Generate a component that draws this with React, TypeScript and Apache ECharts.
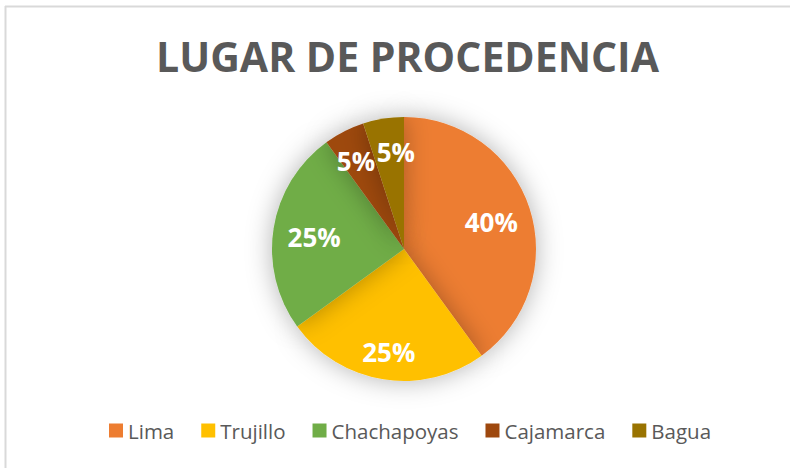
import React, { useEffect, useRef } from "react";
import * as echarts from "echarts";

const categories = ["Lima", "Trujillo", "Chachapoyas", "Cajamarca", "Bagua"];
const values = [40, 25, 25, 5, 5];
const colors = ["#ED7D31", "#FFC000", "#70AD47", "#9E480E", "#997300"];
const titleText = "LUGAR DE PROCEDENCIA";
const labelNudges = [
  { dx: -5, dy: 3 },
  { dx: 0, dy: 7 },
  { dx: 6, dy: 3 },
  { dx: -4, dy: -2 },
  { dx: 7, dy: -1 },
];

export default function App() {
  const ref = useRef<HTMLDivElement>(null);
  useEffect(() => {
    if (!ref.current) return;
    const chart = echarts.init(ref.current, null, { renderer: "svg" });
    const data = categories.map((name, i) => ({
      name,
      value: values[i],
      itemStyle: { color: colors[i] },
    }));
    chart.setOption({
      animation: false,
      backgroundColor: "#ffffff",
      title: {
        text: titleText,
        left: 151,
        top: 30,
        textStyle: {
          fontFamily: "Open Sans",
          fontWeight: "bold",
          fontSize: 41,
          color: "#595959",
        },
      },
      legend: {
        data: categories,
        bottom: 22,
        left: 104,
        icon: "rect",
        itemWidth: 14,
        itemHeight: 14,
        itemGap: 27,
        textStyle: { fontFamily: "Open Sans", fontSize: 20.5, color: "#595959" },
      },
      graphic: [
        {
          type: "line",
          shape: { x1: 5, y1: 6.5, x2: 790, y2: 6.5 },
          style: { stroke: "#d9d9d9", lineWidth: 2 },
        },
        {
          type: "line",
          shape: { x1: 5.5, y1: 6, x2: 5.5, y2: 468 },
          style: { stroke: "#d9d9d9", lineWidth: 2 },
        },
      ],
      series: [
        {
          type: "pie",
          center: [404, 249],
          radius: 132,
          startAngle: 90,
          data,
          label: { show: false },
          labelLine: { show: false },
          itemStyle: {
            shadowBlur: 26,
            shadowColor: "rgba(0,0,0,0.3)",
          },
          emphasis: { disabled: true },
        },
        {
          type: "pie",
          center: [404, 249],
          radius: [56, 132],
          startAngle: 90,
          silent: true,
          legendHoverLink: false,
          avoidLabelOverlap: false,
          labelLayout: (params: any) => ({
            hideOverlap: false,
            dx: labelNudges[params.dataIndex].dx,
            dy: labelNudges[params.dataIndex].dy,
          }),
          data: categories.map((name, i) => ({
            name,
            value: values[i],
            itemStyle: { color: "rgba(0,0,0,0)" },
          })),
          label: {
            show: true,
            position: "inside",
            formatter: "{c}%",
            fontFamily: "Open Sans",
            fontWeight: "bold",
            fontSize: 26,
            color: "#ffffff",
          },
          labelLine: { show: false },
          emphasis: { disabled: true },
        },
      ],
    });
    return () => chart.dispose();
  }, []);
  return (
    <div
      ref={ref}
      style={{ position: "absolute", left: 0, top: 0, width: 790, height: 468 }}
    />
  );
}
